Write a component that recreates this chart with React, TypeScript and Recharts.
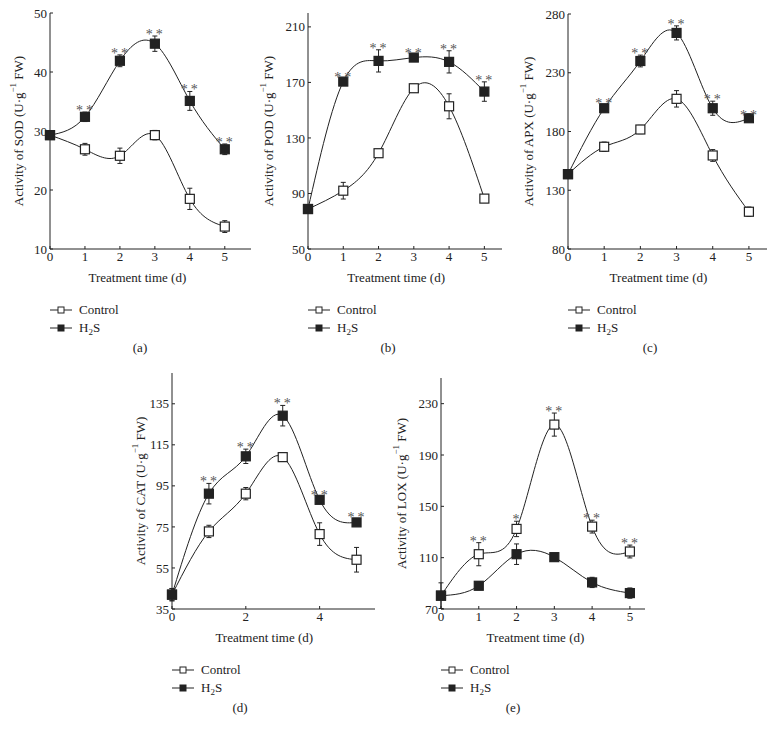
import React from 'react';
import { LineChart, Line, XAxis, YAxis, ErrorBar, LabelList } from 'recharts';

const FONT = '"Liberation Serif", "Times New Roman", serif';
const INK = '#222';

const days = [0, 1, 2, 3, 4, 5];

// (a) SOD
const sodControl = [29.3, 26.9, 25.8, 29.3, 18.5, 13.8];
const sodControlErr = [0.6, 1.0, 1.3, 0.8, 1.8, 1.0];
const sodH2S = [29.3, 32.4, 41.9, 44.8, 35.1, 26.9];
const sodH2SErr = [0.6, 0.8, 1.0, 1.3, 1.6, 0.9];
const sodStars = ['', '**', '**', '**', '**', '**'];

// (b) POD
const podControl = [78.8, 92, 119, 165.8, 152.8, 86.3];
const podControlErr = [2, 6, 2, 2, 9, 1.5];
const podH2S = [78.8, 170.6, 185.5, 187.9, 184.8, 163.4];
const podH2SErr = [2, 1.5, 8, 2, 8, 7];
const podStars = ['', '**', '**', '**', '**', '**'];

// (c) APX
const apxControl = [143.7, 167, 181.7, 207.8, 159.6, 111.7];
const apxControlErr = [2, 4, 3.5, 7, 5, 4];
const apxH2S = [143.7, 199.8, 240, 263.9, 199.8, 191.3];
const apxH2SErr = [2, 3, 5, 6, 6, 1];
const apxStars = ['', '**', '**', '**', '**', '**'];

// (d) CAT
const catControl = [42, 72.8, 91.2, 109, 71.5, 59];
const catControlErr = [3, 3, 3, 2, 5.5, 6];
const catH2S = [42, 91.2, 109.4, 129.2, 88.2, 77.2];
const catH2SErr = [3, 5, 3.5, 5, 1.5, 1.5];
const catStars = ['', '**', '**', '**', '**', '**'];

// (e) LOX - stars sit over the control series here
const loxControl = [80.4, 112.7, 132.4, 213.7, 134.2, 114.8];
const loxControlErr = [10, 9, 6, 9, 5, 5];
const loxH2S = [80.4, 88.1, 112.7, 110.4, 90.7, 82.4];
const loxH2SErr = [2, 3, 8, 1, 4, 4];
const loxStars = ['', '**', '*', '**', '**', '**'];

const panels = [
  {
    tag: '(a)', enzyme: 'SOD', control: sodControl, controlErr: sodControlErr, h2s: sodH2S, h2sErr: sodH2SErr,
    stars: sodStars, starOn: 'h2s', yDomain: [10, 50], yTicks: [10, 20, 30, 40, 50], xEnd: 5.75, xTicks: [0, 1, 2, 3, 4, 5],
    axisX: 50, plotTop: 13, plotBottom: 249, plotRight: 251, captionX: 140, labelDist: 32,
  },
  {
    tag: '(b)', enzyme: 'POD', control: podControl, controlErr: podControlErr, h2s: podH2S, h2sErr: podH2SErr,
    stars: podStars, starOn: 'h2s', yDomain: [50, 220], yTicks: [50, 90, 130, 170, 210], xEnd: 5.5, xTicks: [0, 1, 2, 3, 4, 5],
    axisX: 308, plotTop: 13, plotBottom: 249, plotRight: 502, captionX: 388, labelDist: 40,
  },
  {
    tag: '(c)', enzyme: 'APX', control: apxControl, controlErr: apxControlErr, h2s: apxH2S, h2sErr: apxH2SErr,
    stars: apxStars, starOn: 'h2s', yDomain: [80, 280], yTicks: [80, 130, 180, 230, 280], xEnd: 5.5, xTicks: [0, 1, 2, 3, 4, 5],
    axisX: 568, plotTop: 14, plotBottom: 249, plotRight: 767, captionX: 650, labelDist: 40,
  },
  {
    tag: '(d)', enzyme: 'CAT', control: catControl, controlErr: catControlErr, h2s: catH2S, h2sErr: catH2SErr,
    stars: catStars, starOn: 'h2s', yDomain: [35, 150], yTicks: [35, 55, 75, 95, 115, 135], xEnd: 5.5, xTicks: [0, 2, 4],
    axisX: 172, plotTop: 373, plotBottom: 609, plotRight: 375, captionX: 240, labelDist: 32,
  },
  {
    tag: '(e)', enzyme: 'LOX', control: loxControl, controlErr: loxControlErr, h2s: loxH2S, h2sErr: loxH2SErr,
    stars: loxStars, starOn: 'control', yDomain: [70, 250], yTicks: [70, 110, 150, 190, 230], xEnd: 5.4, xTicks: [0, 1, 2, 3, 4, 5],
    axisX: 441, plotTop: 378, plotBottom: 609, plotRight: 645, captionX: 513, labelDist: 40,
  },
];

const squareDot = (filled: boolean, size: number) => (props: any) => {
  const { cx, cy, index } = props;
  if (cx == null || cy == null) return <g key={index} />;
  const h = size / 2;
  return (
    <rect key={index} x={cx - h} y={cy - h} width={size} height={size}
      fill={filled ? INK : '#fff'} stroke={INK} strokeWidth={1.2} />
  );
};

function StarLabel(props: any) {
  const { x, y, value } = props;
  if (!value) return null;
  const tx = x + 1;
  const ty = y + 3;
  // tiny rotation keeps the glyphs on grey antialiasing
  return (
    <text x={tx} y={ty} transform={`rotate(0.01, ${tx}, ${ty})`} textAnchor="middle" fontFamily={FONT}
      fontSize={14} fill="#555" stroke="none" letterSpacing={3}>
      {value}
    </text>
  );
}

function YLabel({ viewBox, enzyme, dist }: any) {
  if (!viewBox) return null;
  const cx = viewBox.x + viewBox.width - dist;
  const cy = viewBox.y + viewBox.height / 2;
  return (
    <text x={cx} y={cy} transform={`rotate(-90, ${cx}, ${cy})`} textAnchor="middle" dominantBaseline="central"
      fontFamily={FONT} fontSize={13} fill={INK}>
      {`Activity of ${enzyme} (U·g`}
      <tspan dy={-5} fontSize={9}>−1</tspan>
      <tspan dy={5}> FW)</tspan>
    </text>
  );
}

function LegendRow({ filled, children }: any) {
  return (
    <div style={{ display: 'flex', alignItems: 'center', height: 18 }}>
      <svg width={22} height={10} style={{ marginRight: 7 }}>
        <line x1={0} y1={5} x2={22} y2={5} stroke={INK} strokeWidth={1} />
        <rect x={8} y={2} width={6} height={6} fill={filled ? INK : '#fff'} stroke={INK} strokeWidth={1} />
      </svg>
      <span>{children}</span>
    </div>
  );
}

const textStyle = { fontFamily: FONT, fontSize: 13, color: INK, lineHeight: '18px' };

function Panel({ p }: any) {
  const starBase = p.starOn === 'control' ? p.control : p.h2s;
  const starErr = p.starOn === 'control' ? p.controlErr : p.h2sErr;
  const data = days.map((d, i) => ({
    day: d,
    control: p.control[i],
    controlErr: p.controlErr[i],
    h2s: p.h2s[i],
    h2sErr: p.h2sErr[i],
    star: p.stars[i],
    starY: starBase[i] + starErr[i],
  }));

  const yW = 50, mT = 10, mR = 10, xH = 30;
  const left = p.axisX - yW;
  const top = p.plotTop - mT;
  const width = p.plotRight + mR - left;
  const height = p.plotBottom + xH - top;
  const tick = { fill: INK, fontSize: 13, fontFamily: FONT };
  // x title is centred under the 0..5 span, not the whole axis
  const titleX = p.axisX + ((p.plotRight - p.axisX) * (5 / p.xEnd)) / 2;

  return (
    <>
      <div style={{ position: 'absolute', left, top }}>
        <LineChart width={width} height={height} data={data} margin={{ top: mT, right: mR, bottom: 0, left: 0 }}>
          <XAxis type="number" dataKey="day" domain={[0, p.xEnd]} ticks={p.xTicks} interval={0} height={xH}
            stroke={INK} tickSize={-3} tickMargin={6} tick={tick} />
          <YAxis type="number" domain={p.yDomain} ticks={p.yTicks} interval={0} width={yW}
            stroke={INK} tickSize={-3} tickMargin={6} tick={tick}
            label={<YLabel enzyme={p.enzyme} dist={p.labelDist} />} />
          <Line dataKey="control" type="natural" stroke={INK} strokeWidth={1}
            dot={squareDot(false, 9)} activeDot={false} isAnimationActive={false}>
            <ErrorBar dataKey="controlErr" width={2.5} stroke={INK} strokeWidth={1} direction="y" />
          </Line>
          <Line dataKey="h2s" type="natural" stroke={INK} strokeWidth={1}
            dot={squareDot(true, 9)} activeDot={false} isAnimationActive={false}>
            <ErrorBar dataKey="h2sErr" width={2.5} stroke={INK} strokeWidth={1} direction="y" />
          </Line>
          <Line dataKey="starY" stroke="none" dot={false} activeDot={false} isAnimationActive={false}>
            <LabelList dataKey="star" content={<StarLabel />} />
          </Line>
        </LineChart>
      </div>
      <div style={{ ...textStyle, position: 'absolute', left: titleX - 70, width: 140, top: p.plotBottom + 20, textAlign: 'center' }}>
        Treatment time (d)
      </div>
      <div style={{ ...textStyle, position: 'absolute', left: p.axisX, top: p.plotBottom + 52 }}>
        <LegendRow filled={false}>Control</LegendRow>
        <LegendRow filled>
          H<span style={{ fontSize: 9, position: 'relative', top: 3 }}>2</span>S
        </LegendRow>
      </div>
      <div style={{ ...textStyle, position: 'absolute', left: p.captionX - 20, width: 40, top: p.plotBottom + 90, textAlign: 'center' }}>
        {p.tag}
      </div>
    </>
  );
}

export default function App() {
  return (
    <div style={{ position: 'absolute', left: 0, top: 0, width: 776, height: 729, background: '#fff', overflow: 'hidden' }}>
      {panels.map((p) => (
        <Panel key={p.tag} p={p} />
      ))}
    </div>
  );
}
